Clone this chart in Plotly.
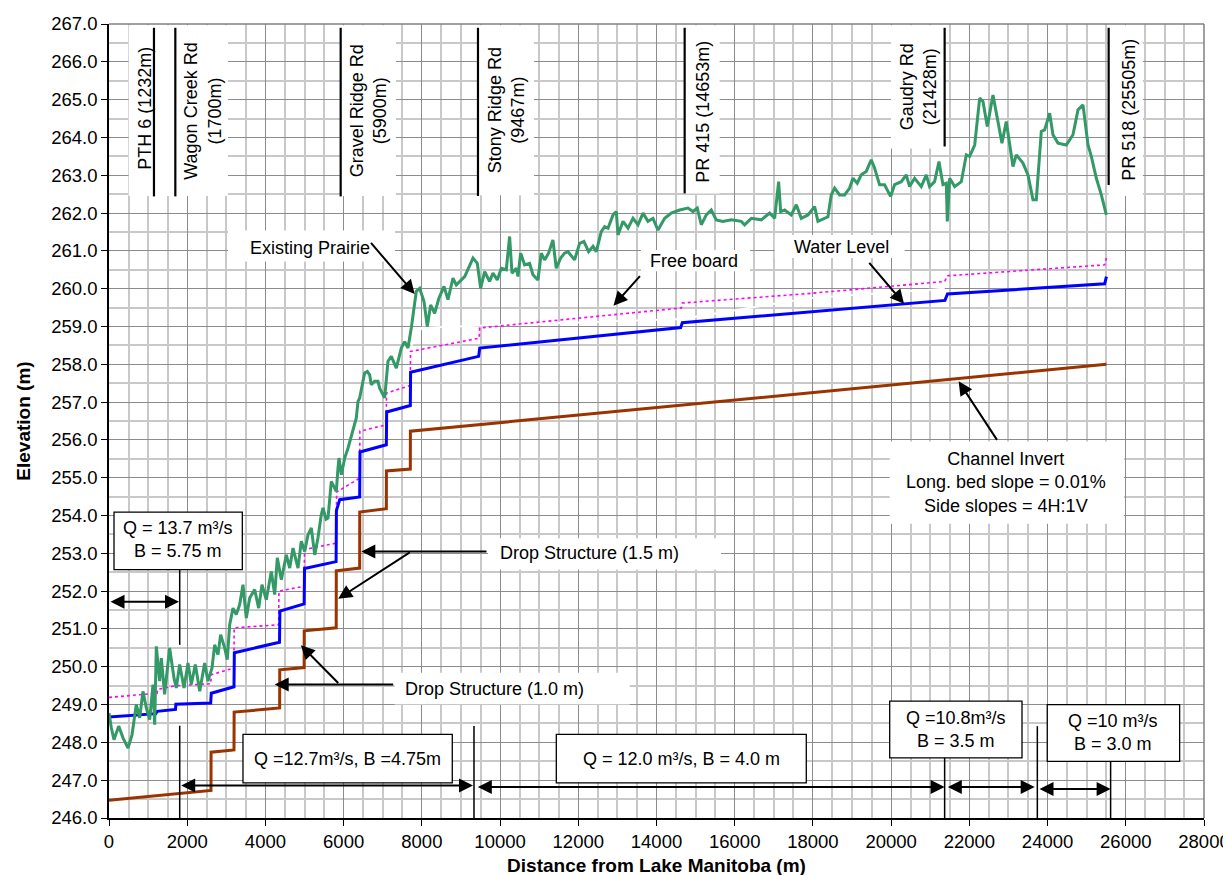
import plotly.graph_objects as go

# ---- data (distance m, elevation m) ----
prairie_x = [0, 60, 128, 248, 358, 486, 588, 698, 784, 869, 954, 1040, 1125, 1168,
             1210, 1295, 1338, 1422, 1550, 1662, 1721, 1807, 1918, 2020, 2105, 2207,
             2320, 2446, 2531, 2634, 2702, 2787, 2855, 2957, 3024, 3086, 3171, 3255,
             3341, 3426, 3511, 3597, 3725, 3827, 3912, 4022, 4150, 4237, 4304, 4407,
             4535, 4621, 4705, 4833, 4917, 5004, 5089, 5174, 5260, 5344, 5428, 5472,
             5550, 5600, 5684, 5769, 5812, 5856, 5881, 5941, 6027, 6111, 6239, 6324,
             6367, 6410, 6494, 6537, 6605, 6665, 6707, 6793, 6878, 6921, 7049, 7134,
             7219, 7347, 7474, 7560, 7645, 7730, 7858, 7944, 8055, 8139, 8225, 8327,
             8438, 8566, 8668, 8796, 8881, 9095, 9308, 9418, 9503, 9606, 9733, 9818,
             9929, 10031, 10159, 10244, 10305, 10414, 10458, 10526, 10628, 10755,
             10840, 10968, 11053, 11139, 11241, 11351, 11436, 11548, 11650, 11735,
             11906, 12034, 12144, 12264, 12376, 12460, 12588, 12674, 12760, 12888,
             12973, 13015, 13143, 13271, 13399, 13527, 13655, 13782, 13910, 14038,
             14209, 14379, 14592, 14805, 14933, 15043, 15145, 15273, 15401, 15529,
             15699, 15912, 16168, 16253, 16424, 16680, 16893, 17021, 17123, 17175,
             17276, 17447, 17575, 17702, 17873, 18043, 18128, 18384, 18469, 18555,
             18682, 18810, 18938, 19023, 19133, 19235, 19363, 19491, 19576, 19704,
             19832, 19986, 20088, 20259, 20387, 20471, 20600, 20771, 20898, 20983,
             21111, 21223, 21325, 21410, 21436, 21497, 21625, 21794, 21922, 22008,
             22136, 22264, 22348, 22459, 22604, 22732, 22834, 22944, 23115, 23200,
             23371, 23499, 23627, 23712, 23840, 23925, 24053, 24138, 24266, 24479,
             24650, 24778, 24906, 25034, 25119, 25247, 25375, 25503]
prairie_y = [248.78, 248.38, 248.07, 248.43, 248.12, 247.85, 248.2, 249.0, 248.65, 249.35,
             248.91, 248.6, 249.53, 248.47, 250.54, 249.62, 250.23, 249.27, 250.5, 249.7,
             249.44, 250.06, 249.44, 250.1, 249.53, 250.06, 249.35, 250.1, 249.62, 249.97,
             250.58, 250.32, 250.85, 250.5, 250.19, 251.11, 251.55, 251.38, 251.64, 252.17,
             251.29, 251.82, 252.04, 251.55, 252.17, 251.77, 252.52, 251.91, 252.88, 252.3,
             252.96, 252.61, 253.14, 252.61, 253.32, 253.05, 253.49, 253.67, 252.96, 253.41,
             254.02, 254.2, 253.9, 253.93, 254.9, 254.73, 254.64, 255.26, 255.52, 255.08,
             255.52, 255.78, 256.31, 256.58, 257.02, 257.11, 257.55, 257.77, 257.81, 257.72,
             257.46, 257.55, 257.55, 257.37, 257.11, 258.08, 258.21, 257.9, 258.43, 258.6,
             258.43, 258.96, 259.93, 260.01, 259.66, 259.0, 259.57, 259.35, 259.75, 260.06,
             259.71, 260.28, 260.1, 260.32, 260.81, 260.67, 260.01, 260.45, 260.19, 260.41,
             260.23, 260.54, 260.5, 261.38, 260.41, 260.54, 260.32, 260.94, 260.63, 260.67,
             260.37, 260.23, 260.94, 260.76, 260.94, 261.29, 260.54, 260.81, 260.94, 260.98,
             260.76, 261.2, 261.25, 260.98, 261.12, 260.98, 261.51, 261.64, 261.6, 261.95,
             262.04, 261.42, 261.78, 261.6, 261.86, 261.69, 262.0, 261.78, 261.86, 261.55,
             261.86, 262.0, 262.08, 262.13, 262.04, 262.13, 261.69, 261.95, 262.08, 261.82,
             261.78, 261.82, 261.78, 261.69, 261.86, 261.82, 262.0, 261.86, 262.83, 262.04,
             262.08, 261.95, 262.22, 261.86, 261.95, 262.17, 261.78, 261.9, 262.48, 262.66,
             262.48, 262.48, 262.66, 262.92, 262.79, 263.01, 263.1, 263.41, 263.19, 262.75,
             262.75, 262.44, 262.75, 262.83, 263.01, 262.7, 262.92, 262.7, 263.01, 262.7,
             262.83, 263.36, 262.75, 262.79, 261.78, 262.92, 262.7, 262.83, 263.54, 263.5,
             263.8, 265.04, 264.95, 264.29, 265.12, 264.42, 263.85, 264.42, 263.23, 263.54,
             263.32, 263.01, 262.35, 262.35, 264.16, 264.2, 264.64, 264.07, 263.85, 263.8,
             264.07, 264.73, 264.86, 263.8, 263.5, 262.92, 262.48, 261.95]

water_x = [0, 1200, 1232, 1700, 1710, 2600, 2615, 3196, 3205, 4360, 4370, 4990, 5000,
           5807, 5815, 5900, 6410, 6418, 7092, 7100, 7705, 7712, 9452, 9480, 14618,
           14660, 21376, 21440, 25460, 25505]
water_y = [248.67, 248.76, 248.82, 248.87, 249.01, 249.04, 249.3, 249.47, 250.37, 250.65,
           251.47, 251.66, 252.6, 252.78, 254.13, 254.42, 254.49, 255.68, 255.87, 256.74,
           256.91, 257.79, 258.21, 258.43, 258.97, 259.1, 259.69, 259.86, 260.13, 260.32]

freeboard_x = [0, 1232, 1240, 1700, 2600, 2617, 3196, 3200, 4339, 4345, 4990, 5000,
               5812, 5820, 6410, 6415, 7092, 7095, 7705, 7710, 9467, 9477, 14635,
               14660, 17873, 21368, 21440, 25460, 25505]
freeboard_y = [249.19, 249.3, 249.4, 249.5, 249.55, 249.79, 249.97, 251.03, 251.11,
               252.0, 252.13, 253.1, 253.27, 254.62, 254.99, 256.23, 256.4, 257.24,
               257.44, 258.34, 258.69, 258.96, 259.49, 259.62, 259.87, 260.19, 260.34,
               260.63, 260.81]

invert_x = [0, 2608, 2610, 3196, 3200, 4364, 4366, 4990, 4992, 5810, 5812, 6410, 6412,
            7092, 7094, 7705, 7707, 25505]
invert_y = [246.47, 246.73, 247.74, 247.8, 248.8, 248.91, 249.92, 249.98, 250.95, 251.03,
            252.54, 252.61, 254.09, 254.18, 255.18, 255.23, 256.23, 258.0]

# faint white series that shows only where it crosses the grid
white_x = [7730, 8000, 14650, 17900, 21370]
white_y = [258.5, 258.97, 259.2, 259.75, 260.0]

road_labels = ["PTH 6 (1232m)", "Wagon Creek Rd<br>(1700m)", "Gravel Ridge Rd<br>(5900m)",
               "Stony Ridge Rd<br>(9467m)", "PR 415 (14653m)", "Gaudry Rd<br>(21428m)",
               "PR 518 (25505m)"]
road_x = [1150, 1696, 5924, 9435, 14720, 21368, 25562]

reach_labels = ["Q = 13.7 m³/s<br>B = 5.75 m", "Q =12.7m³/s, B =4.75m",
                "Q = 12.0 m³/s, B = 4.0 m", "Q =10.8m³/s<br>B = 3.5 m",
                "Q =10 m³/s<br>B = 3.0 m"]

FONT = "Arial, Liberation Sans, sans-serif"

fig = go.Figure()
fig.add_trace(go.Scatter(x=white_x, y=white_y, mode="lines",
                         line=dict(color="white", width=2), hoverinfo="skip"))
fig.add_trace(go.Scatter(x=freeboard_x, y=freeboard_y, mode="lines", name="Free board",
                         line=dict(color="#FF00FF", width=1.6, dash="dot")))
fig.add_trace(go.Scatter(x=invert_x, y=invert_y, mode="lines", name="Channel Invert",
                         line=dict(color="#993300", width=3)))
fig.add_trace(go.Scatter(x=water_x, y=water_y, mode="lines", name="Water Level",
                         line=dict(color="#0000FF", width=3)))
fig.add_trace(go.Scatter(x=prairie_x, y=prairie_y, mode="lines", name="Existing Prairie",
                         line=dict(color="#339966", width=3)))

shapes = []
annots = []


def white_box(x0, x1, y0, y1, border=False):
    shapes.append(dict(type="rect", xref="x", yref="y", x0=x0, x1=x1, y0=y0, y1=y1,
                       fillcolor="white", layer="above",
                       line=dict(color="black", width=1.3) if border else dict(width=0)))


def label(text, x, y, angle=0):
    annots.append(dict(x=x, y=y, text=text, showarrow=False, textangle=angle,
                       xanchor="center", yanchor="middle", align="center",
                       font=dict(family=FONT, size=18, color="black")))


def arrow(x, y, ax, ay, both=False):
    annots.append(dict(x=x, y=y, ax=ax, ay=ay, xref="x", yref="y", axref="x", ayref="y",
                       text="", showarrow=True, arrowhead=2, arrowsize=1.4,
                       arrowwidth=2, arrowcolor="black", standoff=0,
                       arrowside="end+start" if both else "end", startarrowhead=2,
                       startarrowsize=1.4, startstandoff=0))


def vline(x, y0, y1, w=1.5):
    shapes.append(dict(type="line", xref="x", yref="y", x0=x, x1=x, y0=y0, y1=y1,
                       layer="above", line=dict(color="black", width=w)))


# road label panels
white_box(504, 3043, 262.45, 266.97)
white_box(5932, 7339, 262.45, 266.97)
white_box(9435, 10867, 262.47, 266.97)
white_box(14720, 15615, 262.52, 266.97)
white_box(19996, 21369, 263.71, 266.97)
white_box(25562, 26439, 262.45, 266.97)

# callout panels
white_box(3043, 7313, 260.72, 261.54)
white_box(13603, 16390, 260.46, 261.02)
white_box(17022, 20346, 260.81, 261.42)
white_box(19963, 25953, 253.78, 255.96)
white_box(9691, 15649, 252.57, 253.4)
white_box(7305, 13314, 249.0, 249.84)

# flow reach boxes
white_box(128, 3409, 252.57, 254.09, border=True)
white_box(3426, 8778, 246.93, 248.21, border=True)
white_box(11438, 17830, 246.93, 248.21, border=True)
white_box(19963, 23346, 247.59, 249.09, border=True)
white_box(23992, 27377, 247.5, 249.0, border=True)

# road lines and their labels
road_bottom = [262.44, 262.44, 262.44, 262.45, 262.52, 263.76, 262.74]
road_lab_x = [915, 2404, 6622, 10160, 15190, 20686, 26081]
road_lab_y = [264.78, 264.68, 264.72, 264.73, 264.68, 265.35, 264.73]
for name, rx, rb, lx, ly in zip(road_labels, road_x, road_bottom, road_lab_x, road_lab_y):
    vline(rx, rb, 266.9, w=2.2)
    label(name, lx, ly, angle=-90)

# reach dividers
vline(1808, 250.58, 252.57)
vline(1808, 246.0, 248.44)
vline(9333, 246.0, 248.43)
vline(21368, 246.0, 247.59)
vline(23738, 246.0, 248.43)
vline(25612, 246.0, 247.5)

# reach extents
arrow(1790, 251.72, 0, 251.72, both=True)
arrow(9308, 246.86, 1808, 246.86, both=True)
arrow(21368, 246.82, 9392, 246.82, both=True)
arrow(23670, 246.82, 21411, 246.82, both=True)
arrow(25612, 246.77, 23755, 246.77, both=True)

for txt, cx, cy in zip(reach_labels, [1764, 6104, 14634, 21650, 25685],
                       [253.36, 247.57, 247.57, 248.34, 248.25]):
    label(txt, cx, cy)

# callouts
label("Existing Prairie", 5152, 261.08)
arrow(7817, 259.86, 6666, 261.25)
label("Free board", 14946, 260.74)
arrow(12900, 259.55, 13611, 260.37)
label("Water Level", 18718, 261.11)
arrow(20330, 259.6, 19408, 260.72)
label("Channel Invert<br>Long. bed slope = 0.01%<br>Side slopes = 4H:1V", 22944, 254.88)
arrow(21726, 257.55, 22732, 255.96)
label("Drop Structure (1.5 m)", 12274, 253.01)
arrow(6452, 253.05, 9691, 253.05)
arrow(5860, 251.8, 7730, 253.05)
label("Drop Structure (1.0 m)", 9862, 249.4)
arrow(4237, 249.53, 7305, 249.53)
arrow(4905, 250.57, 5899, 249.53)

# gray frame on top and right
shapes.append(dict(type="line", xref="paper", yref="paper", x0=0, x1=1, y0=1, y1=1,
                   line=dict(color="#808080", width=1.5)))
shapes.append(dict(type="line", xref="paper", yref="paper", x0=1, x1=1, y0=0, y1=1,
                   line=dict(color="#808080", width=1.5)))

fig.update_layout(
    width=1231, height=875,
    margin=dict(l=101, r=35, t=16, b=65),
    paper_bgcolor="white", plot_bgcolor="white",
    showlegend=False,
    font=dict(family=FONT, size=18, color="black"),
    shapes=shapes, annotations=annots,
    xaxis=dict(
        range=[0, 28000], tick0=0, dtick=2000, tickformat="d", automargin=False,
        showgrid=True, gridcolor="#8c8c8c", gridwidth=1.2,
        minor=dict(dtick=500, showgrid=True, gridcolor="#c8c8c8", gridwidth=1.5),
        showline=True, linecolor="black", linewidth=1.5,
        ticks="outside", ticklen=6, tickcolor="black", zeroline=False,
        tickfont=dict(size=18.5),
        title=dict(text="<b>Distance from Lake Manitoba (m)</b>", font=dict(size=19),
                   standoff=8),
    ),
    yaxis=dict(
        range=[246, 267], tick0=246, dtick=1, tickformat=".1f", automargin=False,
        showgrid=True, gridcolor="#8c8c8c", gridwidth=1.2,
        minor=dict(dtick=0.5, showgrid=True, gridcolor="#c8c8c8", gridwidth=1.5),
        showline=True, linecolor="black", linewidth=1.5,
        ticks="outside", ticklen=6, tickcolor="black", zeroline=False,
        tickfont=dict(size=18.5),
        title=dict(text="<b>Elevation (m)</b>", font=dict(size=19), standoff=16),
    ),
)

fig.write_html("out.html")
